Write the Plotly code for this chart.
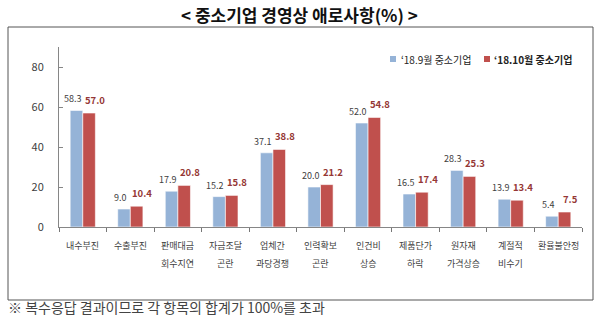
import plotly.graph_objects as go

categories = ["내수부진", "수출부진", "판매대금 회수지연", "자금조달 곤란", "업체간 과당경쟁",
              "인력확보 곤란", "인건비 상승", "제품단가 하락", "원자재 가격상승", "계절적 비수기", "환율불안정"]
label_line1 = ["내수부진", "수출부진", "판매대금", "자금조달", "업체간", "인력확보", "인건비", "제품단가", "원자재", "계절적", "환율불안정"]
label_line2 = ["", "", "회수지연", "곤란", "과당경쟁", "곤란", "상승", "하락", "가격상승", "비수기", ""]
sep_values = [58.3, 9.0, 17.9, 15.2, 37.1, 20.0, 52.0, 16.5, 28.3, 13.9, 5.4]
oct_values = [57.0, 10.4, 20.8, 15.8, 38.8, 21.2, 54.8, 17.4, 25.3, 13.4, 7.5]
series_names = ["‘18.9월 중소기업", "‘18.10월 중소기업"]
series_colors = ["#95B3D7", "#C0504D"]
y_ticks = [0, 20, 40, 60, 80]

FONT = "Noto Sans CJK KR"

# pixel -> paper helpers (plot area: x 59..582, y 47..227)
def px(x):
    return (x - 59) / 523

def py(y):
    return (227 - y) / 180

fig = go.Figure()
fig.add_trace(go.Bar(
    x=categories, y=sep_values, name=series_names[0], showlegend=False,
    marker=dict(color=series_colors[0], line=dict(color="white", width=0.6)),
))
fig.add_trace(go.Bar(
    x=categories, y=oct_values, name=series_names[1], showlegend=False,
    marker=dict(color=series_colors[1], line=dict(color="white", width=0.6)),
))

# Value labels, offset left (Sep) and right (Oct) as in the reference
for c, v in zip(categories, sep_values):
    fig.add_annotation(x=c, y=v, xref="x", yref="y", text=f"{v:.1f}", showarrow=False,
                       font=dict(family=FONT, size=9, color="#404040"),
                       xanchor="center", yanchor="bottom", xshift=-10, yshift=3)
for c, v in zip(categories, oct_values):
    fig.add_annotation(x=c, y=v, xref="x", yref="y", text=f"<b>{v:.1f}</b>", showarrow=False,
                       font=dict(family=FONT, size=9.5, color="#953735"),
                       xanchor="center", yanchor="bottom", xshift=12, yshift=4)

# Category labels (two lines with custom spacing)
for c, l1, l2 in zip(categories, label_line1, label_line2):
    fig.add_annotation(x=c, y=py(245), xref="x", yref="paper", text=l1,
                       showarrow=False, font=dict(family=FONT, size=9, color="#404040"),
                       xanchor="center", yanchor="middle")
    if l2:
        fig.add_annotation(x=c, y=py(263), xref="x", yref="paper", text=l2,
                           showarrow=False, font=dict(family=FONT, size=9, color="#404040"),
                           xanchor="center", yanchor="middle")

# Legend (manual)
legend_sq_x = [390, 484]
legend_txt_x = [399, 492]
for i, name in enumerate(series_names):
    fig.add_shape(type="rect", xref="paper", yref="paper",
                  x0=px(legend_sq_x[i]), x1=px(legend_sq_x[i] + 6),
                  y0=py(62), y1=py(56), line=dict(width=0), fillcolor=series_colors[i])
    fig.add_annotation(x=px(legend_txt_x[i]), y=py(59), xref="paper", yref="paper",
                       text=(name if i == 0 else f"<b>{name}</b>"), showarrow=False,
                       font=dict(family=FONT, size=10, color="#222222"),
                       xanchor="left", yanchor="middle")

# Title
fig.add_annotation(x=px(299), xref="paper", y=py(14), yref="paper",
                   text="<b>< 중소기업 경영상 애로사항(%) ></b>", showarrow=False,
                   font=dict(family=FONT, size=17, color="#111111"),
                   xanchor="center", yanchor="middle")
# Footnote
fig.add_annotation(x=px(6), xref="paper", y=py(307), yref="paper",
                   text="※ 복수응답 결과이므로 각 항목의 합계가 100%를 초과", showarrow=False,
                   font=dict(family=FONT, size=14, color="#444444"),
                   xanchor="left", yanchor="middle")

# Outer box
fig.add_shape(type="rect", xref="paper", yref="paper",
              x0=px(8), x1=px(593), y0=py(300), y1=py(27),
              line=dict(color="#555555", width=1), fillcolor="rgba(0,0,0,0)", layer="below")

fig.update_layout(
    width=600, height=321,
    margin=dict(l=59, r=18, t=47, b=94),
    paper_bgcolor="white", plot_bgcolor="white",
    barmode="group", bargap=0.47, bargroupgap=0.0,
    font=dict(family=FONT, color="#404040"),
    showlegend=False,
    xaxis=dict(showticklabels=False, showline=True, linecolor="#868686", linewidth=1,
               ticks="outside", ticklen=4, tickwidth=1, tickcolor="#777777", tickson="boundaries",
               showgrid=False, zeroline=False),
    yaxis=dict(range=[0, 90], tickvals=y_ticks, showline=True, linecolor="#868686", linewidth=1,
               ticks="inside", ticklen=4, tickcolor="#868686", showgrid=False, zeroline=False,
               tickfont=dict(family=FONT, size=11, color="#404040"), ticklabelstandoff=12),
)

fig.write_html("out.html")
